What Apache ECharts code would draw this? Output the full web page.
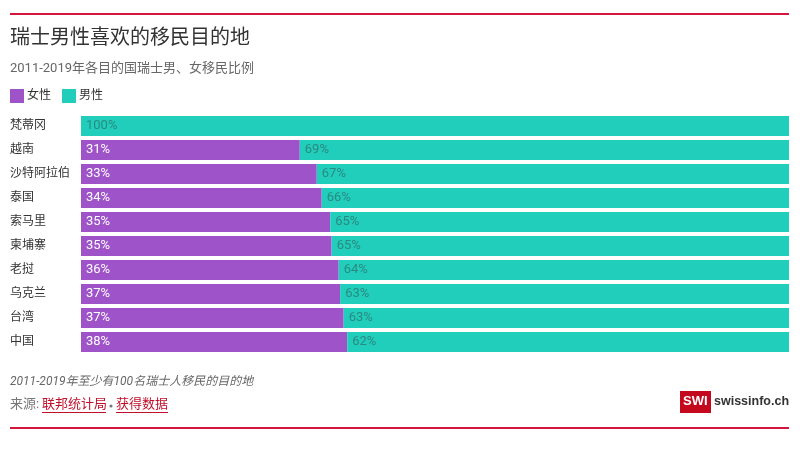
<!DOCTYPE html>
<html>
<head>
<meta charset="utf-8">
<script src="https://cdn.jsdelivr.net/npm/echarts@6/dist/echarts.min.js"></script>
<style>
html,body{margin:0;padding:0;background:#fff;}
#chart{width:808px;height:450px;}
</style>
</head>
<body>
<div id="chart"></div>
<script>
var categories = ['梵蒂冈','越南','沙特阿拉伯','泰国','索马里','柬埔寨','老挝','乌克兰','台湾','中国'];
var female = [0, 30.9, 33.3, 34.0, 35.2, 35.4, 36.4, 36.6, 37.1, 37.6];
var male = [100, 69.1, 66.7, 66.0, 64.8, 64.6, 63.6, 63.4, 62.9, 62.4];
var seriesNames = ['女性','男性'];

var FONT = "Roboto, 'Noto Sans CJK SC', sans-serif";
var PURPLE = '#9f53c9';
var TEAL = '#21cdbb';
var RED = '#d4163c';

var chart = echarts.init(document.getElementById('chart'));
chart.setOption({
  animation: false,
  textStyle: {fontFamily: FONT},
  title: [
    {text: '瑞士男性喜欢的移民目的地', left: 10, top: 29, padding: 0, textStyle: {fontSize: 20, fontWeight: 'normal', color: '#333', fontFamily: FONT}},
    {text: '2011-2019年各目的国瑞士男、女移民比例', left: 10, top: 62, padding: 0, textStyle: {fontSize: 13, fontWeight: 'normal', color: '#666', fontFamily: FONT}}
  ],
  legend: {
    left: 10, top: 89, padding: 0, itemWidth: 14, itemHeight: 14, itemGap: 11, icon: 'rect',
    textStyle: {fontSize: 12, color: '#333', padding: [0,0,0,-2]},
    data: seriesNames
  },
  grid: {left: 81, right: 19, top: 114, height: 240},
  xAxis: {type: 'value', min: 0, max: 100, show: false},
  yAxis: {
    type: 'category', data: categories, inverse: true,
    axisLine: {show: false}, axisTick: {show: false},
    axisLabel: {align: 'left', margin: 71, fontSize: 12, color: '#333', padding: [6,0,0,0]}
  },
  series: [
    {
      name: seriesNames[0], type: 'bar', stack: 'a', data: female, barWidth: 20,
      itemStyle: {color: PURPLE},
      label: {show: true, position: 'insideLeft', distance: 5, color: '#fff', fontSize: 13, padding: [3,0,0,0],
        formatter: function(p){ return p.value > 0 ? Math.round(p.value) + '%' : ''; }}
    },
    {
      name: seriesNames[1], type: 'bar', stack: 'a', data: male, barWidth: 20,
      itemStyle: {color: TEAL},
      label: {show: true, position: 'insideLeft', distance: 5, color: '#2b8a80', fontSize: 13, padding: [3,0,0,0],
        formatter: function(p){ return Math.round(p.value) + '%'; }}
    }
  ],
  graphic: [
    {type: 'rect', shape: {x: 10, y: 13, width: 779, height: 2}, style: {fill: RED}},
    {type: 'rect', shape: {x: 10, y: 427, width: 779, height: 2}, style: {fill: RED}},
    {type: 'text', left: 10, top: 376, style: {text: '2011-2019年至少有100名瑞士人移民的目的地', fontSize: 12, fontStyle: 'italic', fill: '#666', fontFamily: FONT}},
    {type: 'text', left: 10, top: 398, style: {text: '来源: ', fontSize: 13, fill: '#777', fontFamily: FONT}},
    {type: 'text', left: 42, top: 398, style: {text: '联邦统计局', fontSize: 13, fill: '#c0102c', fontFamily: FONT}},
    {type: 'rect', shape: {x: 42, y: 412, width: 64, height: 1}, style: {fill: '#c0102c'}},
    {type: 'circle', shape: {cx: 111, cy: 406, r: 1.6}, style: {fill: '#777'}},
    {type: 'text', left: 116, top: 398, style: {text: '获得数据', fontSize: 13, fill: '#c0102c', fontFamily: FONT}},
    {type: 'rect', shape: {x: 116, y: 412, width: 52, height: 1}, style: {fill: '#c0102c'}},
    {type: 'rect', shape: {x: 680, y: 391, width: 31, height: 22}, style: {fill: '#c4081e'}},
    {type: 'text', left: 683, top: 395, style: {text: 'SWI', fontSize: 13, fontWeight: 'bold', fill: '#fff', fontFamily: "'Liberation Sans', sans-serif"}},
    {type: 'text', left: 714, top: 395, style: {text: 'swissinfo.ch', fontSize: 12.5, fontWeight: 'bold', fill: '#333', fontFamily: "'Liberation Sans', sans-serif"}}
  ]
});
</script>
</body>
</html>
